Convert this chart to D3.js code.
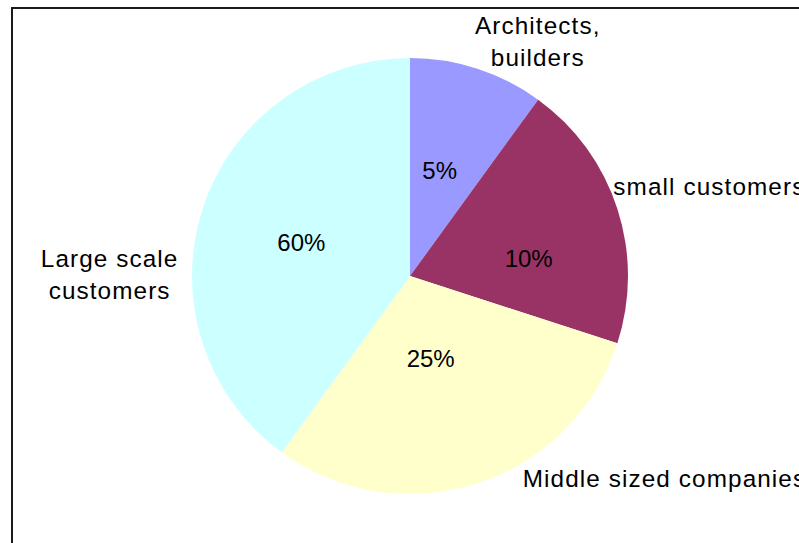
<!DOCTYPE html>
<html>
<head>
<meta charset="utf-8">
<script src="https://cdn.jsdelivr.net/npm/d3@7"></script>
<style>
  html, body { margin: 0; padding: 0; background: #fff; overflow: hidden; }
  svg { display: block; font-family: "Liberation Sans", Arial, sans-serif; }
</style>
</head>
<body>
<svg id="chart" width="799" height="543"></svg>
<script>
// ---- data ----
const categories = ["Architects, builders", "small customers", "Middle sized companies", "Large scale customers"];
const categoryLines = [["Architects,", "builders"], ["small customers"], ["Middle sized companies"], ["Large scale", "customers"]];
const sliceValues = [10, 20, 30, 40];            // slice sizes as drawn
const percentLabels = ["5%", "10%", "25%", "60%"]; // data labels as printed
const colors = ["#9999FF", "#993366", "#FFFFCC", "#CCFFFF"];

// ---- layout ----
const W = 799, H = 543;
const cx = 410, cy = 276, R = 218;
const catAnchor = ["middle", "start", "start", "middle"];
const catNudge = [[48, 3], [-42, -1], [33, -34], [-55, 71]];
const pctNudge = [[-4, -2], [15, 16], [-13, -21], [-5, 0]];
const lineH = 32;

const svg = d3.select("#chart");

// frame
svg.append("rect")
  .attr("x", 12).attr("y", 8)
  .attr("width", W + 10).attr("height", H + 10)
  .attr("fill", "#fff")
  .attr("stroke", "#1a1a1a")
  .attr("stroke-width", 2);

const data = categories.map((c, i) => ({ c, i, v: sliceValues[i] }));
const pie = d3.pie().value(d => d.v).sort(null).startAngle(0).endAngle(2 * Math.PI);
const arcs = pie(data);

const arc = d3.arc().innerRadius(0).outerRadius(R);
const labelArc = d3.arc().innerRadius(R + 40).outerRadius(R + 40);

const g = svg.append("g").attr("transform", `translate(${cx},${cy})`);

g.selectAll("path.slice")
  .data(arcs)
  .join("path")
  .attr("class", "slice")
  .attr("d", arc)
  .attr("fill", d => colors[d.data.i]);

// percent labels
g.selectAll("text.pct")
  .data(arcs)
  .join("text")
  .attr("class", "pct")
  .attr("text-anchor", "middle")
  .attr("dy", "0.35em")
  .attr("font-size", 24)
  .attr("fill", "#000")
  .attr("x", d => arc.centroid(d)[0] + pctNudge[d.data.i][0])
  .attr("y", d => arc.centroid(d)[1] + pctNudge[d.data.i][1])
  .text(d => percentLabels[d.data.i]);

// category labels
const cat = g.selectAll("text.cat")
  .data(arcs)
  .join("text")
  .attr("class", "cat")
  .attr("text-anchor", d => catAnchor[d.data.i])
  .attr("font-size", 24.3)
  .attr("letter-spacing", 1.1)
  .attr("fill", "#000")
  .attr("transform", d => {
    const p = labelArc.centroid(d);
    const n = catNudge[d.data.i];
    return `translate(${p[0] + n[0]},${p[1] + n[1]})`;
  });

cat.selectAll("tspan")
  .data(d => categoryLines[d.data.i])
  .join("tspan")
  .attr("x", 0)
  .attr("y", (t, j) => j * lineH)
  .text(t => t);
</script>
</body>
</html>
